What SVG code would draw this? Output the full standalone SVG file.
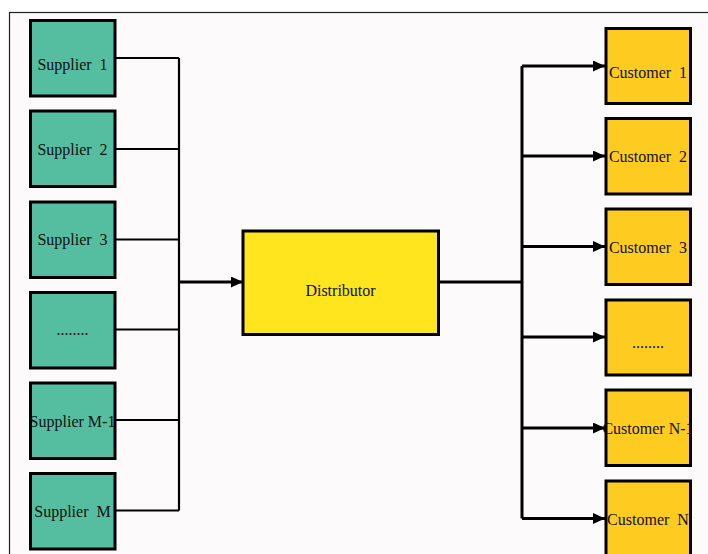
<svg xmlns="http://www.w3.org/2000/svg" width="708" height="554" viewBox="0 0 708 554">
<style>
.t{font-family:"Liberation Serif","Times New Roman",serif;font-size:16px;fill:#111;text-anchor:middle;white-space:pre}
.sup{fill:#55bea0;stroke:#000;stroke-width:3}
.cus{fill:#fecb20;stroke:#000;stroke-width:3}
.dis{fill:#fee51e;stroke:#000;stroke-width:3}
.ln{fill:none;stroke:#000;stroke-width:2.2}
.th{fill:none;stroke:#000;stroke-width:3}
</style>
<defs>
<marker id="ah" viewBox="0 0 12 11" refX="12" refY="5.5" markerWidth="12" markerHeight="11" markerUnits="userSpaceOnUse" orient="auto">
<path d="M0,0 L12,5.5 L0,11 z" fill="#000"/>
</marker>
<clipPath id="rc"><rect x="0" y="0" width="691" height="554"/></clipPath>
</defs>
<rect x="0" y="0" width="708" height="554" fill="#ffffff"/>
<rect x="9.5" y="12.5" width="700" height="545" fill="#fcfafb" stroke="#222" stroke-width="1.2"/>
<g id="connectors">
<path class="ln" d="M115,58 H179 M115,149 H179 M115,239.5 H179 M115,329.5 H179 M115,420 H179 M115,510.5 H179 M179,58 V510.5"/>
<path class="th" d="M179,282 H243" marker-end="url(#ah)"/>
<path class="th" d="M438,282 H522"/>
<path class="th" d="M522,66 V518.5"/>
<path class="th" d="M522,66 H605" marker-end="url(#ah)"/>
<path class="th" d="M522,156 H605" marker-end="url(#ah)"/>
<path class="th" d="M522,246.5 H605" marker-end="url(#ah)"/>
<path class="th" d="M522,337 H605" marker-end="url(#ah)"/>
<path class="th" d="M522,428 H605" marker-end="url(#ah)"/>
<path class="th" d="M522,518.5 H605" marker-end="url(#ah)"/>
</g>
<g id="supplier1"><rect class="sup" x="30.5" y="20.5" width="84.5" height="75.5"/><text class="t" x="72.5" y="70" xml:space="preserve">Supplier  1</text></g>
<g id="supplier2"><rect class="sup" x="30.5" y="111" width="84.5" height="75.5"/><text class="t" x="72.5" y="155" xml:space="preserve">Supplier  2</text></g>
<g id="supplier3"><rect class="sup" x="30.5" y="202" width="84.5" height="75.5"/><text class="t" x="72.5" y="245" xml:space="preserve">Supplier  3</text></g>
<g id="supplier4"><rect class="sup" x="30.5" y="292.5" width="84.5" height="75.5"/><text class="t" x="72.5" y="335">........</text></g>
<g id="supplierM1"><rect class="sup" x="30.5" y="383" width="84.5" height="75.5"/><text class="t" x="72.5" y="426.5">Supplier M-1</text></g>
<g id="supplierM"><rect class="sup" x="30.5" y="473.5" width="84.5" height="75.5"/><text class="t" x="72.5" y="517" xml:space="preserve">Supplier  M</text></g>
<g id="distributor"><rect class="dis" x="243" y="231" width="195.5" height="103.5"/><text class="t" x="340.5" y="296">Distributor</text></g>
<g id="customer1"><rect class="cus" x="606" y="28.5" width="84.5" height="75"/><text class="t" x="648" y="77.5" xml:space="preserve">Customer  1</text></g>
<g id="customer2"><rect class="cus" x="606" y="118.5" width="84.5" height="75.5"/><text class="t" x="648" y="162" xml:space="preserve">Customer  2</text></g>
<g id="customer3"><rect class="cus" x="606" y="209" width="84.5" height="75.5"/><text class="t" x="648" y="252.5" xml:space="preserve">Customer  3</text></g>
<g id="customer4"><rect class="cus" x="606" y="300" width="84.5" height="75"/><text class="t" x="648" y="348">........</text></g>
<g id="customerN1"><rect class="cus" x="606" y="390" width="84.5" height="75.5"/><text class="t" x="648" y="433.5" clip-path="url(#rc)">Customer N-1</text></g>
<g id="customerN"><rect class="cus" x="606" y="481" width="84.5" height="80"/><text class="t" x="648" y="524.5" clip-path="url(#rc)" xml:space="preserve">Customer  N</text></g>
</svg>
